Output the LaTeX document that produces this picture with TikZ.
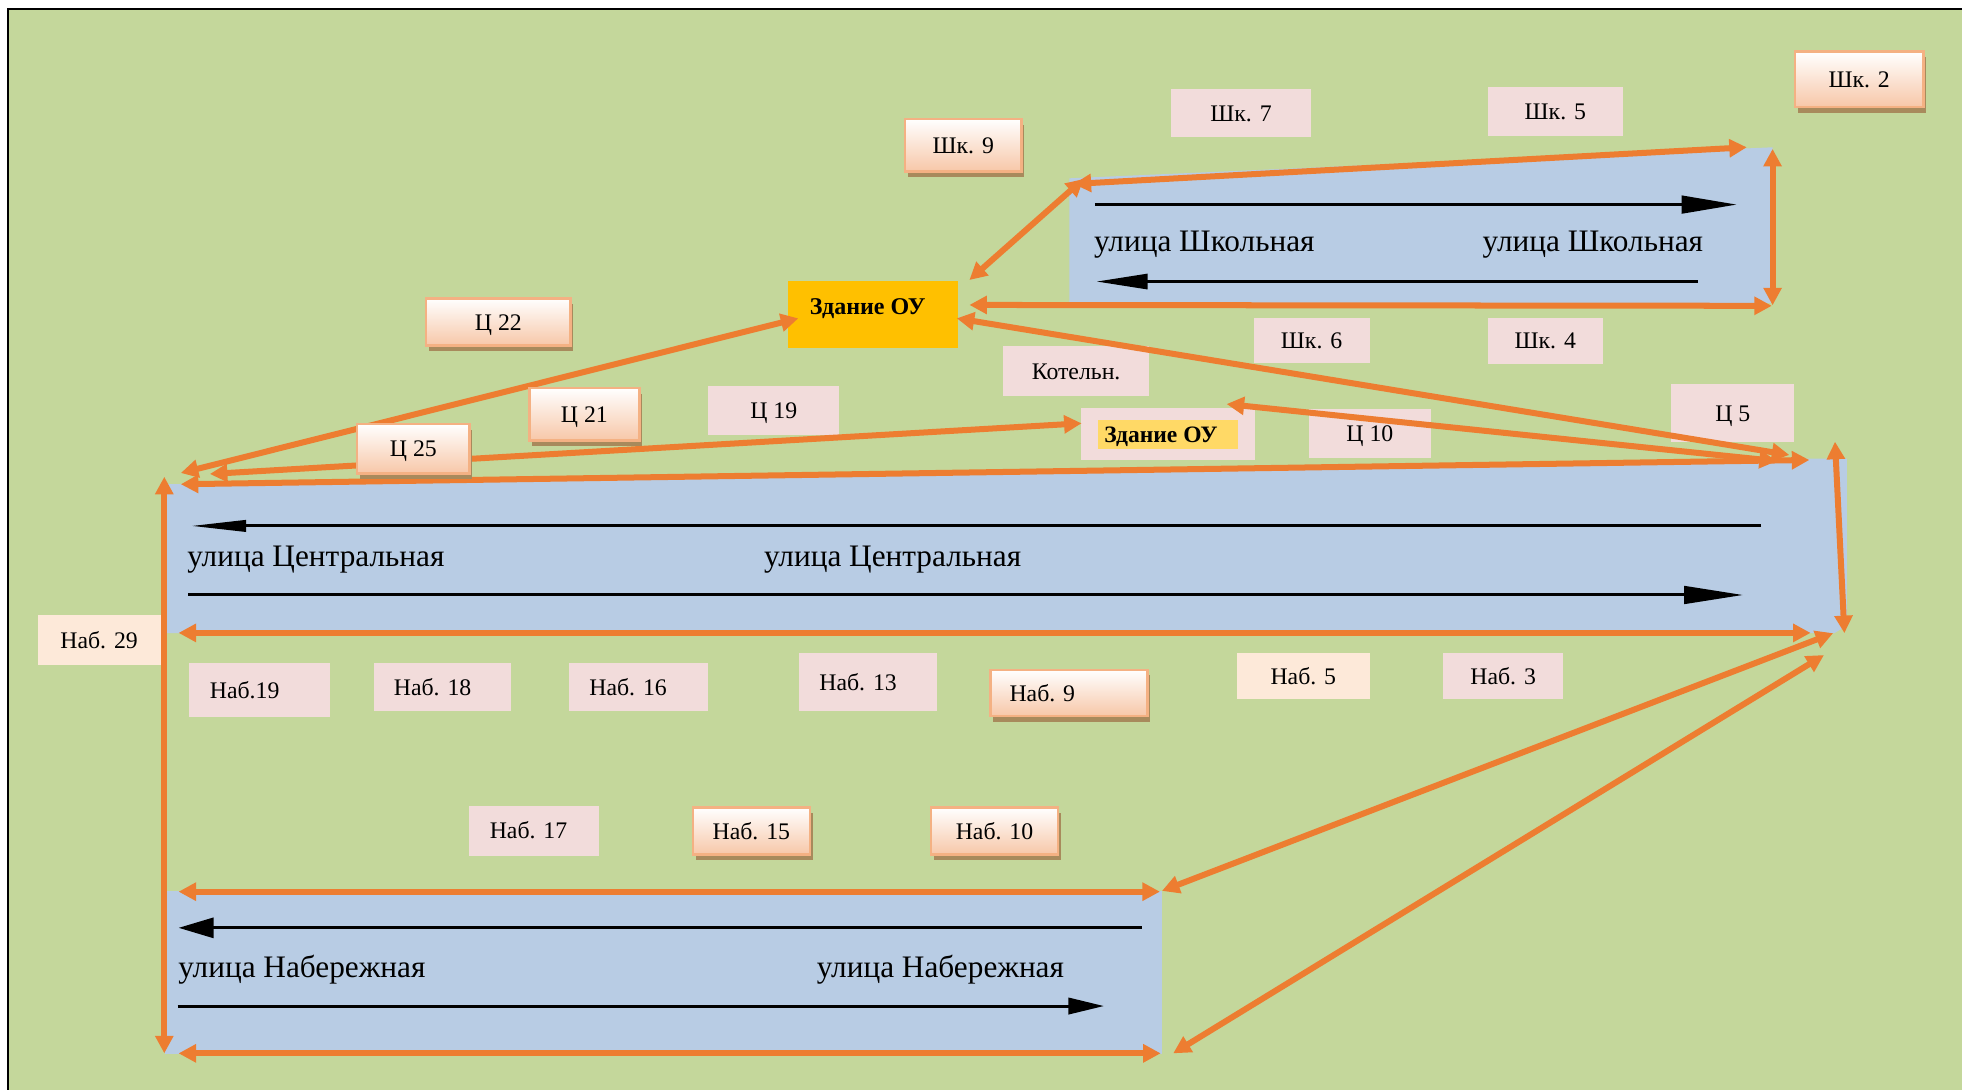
\documentclass[tikz,border=0pt]{standalone}
\usepackage{fontspec}
\setmainfont{Liberation Serif}
\usetikzlibrary{arrows.meta,shadows}
\definecolor{bggreen}{RGB}{196,215,155}
\definecolor{road}{RGB}{184,204,228}
\definecolor{orng}{RGB}{237,125,49}
\definecolor{pinklab}{RGB}{242,220,219}
\definecolor{peachlab}{RGB}{253,233,217}
\definecolor{gradbot}{RGB}{247,199,168}
\definecolor{gradborder}{RGB}{244,177,131}
\definecolor{shadowbrown}{RGB}{168,138,92}
\definecolor{gold}{RGB}{255,192,0}
\definecolor{lightgold}{RGB}{255,217,102}
\tikzset{
  lab/.style={fill=pinklab, inner sep=0pt, text height=13pt, text depth=0pt, font=\fontsize{19}{22}\selectfont},
  labpeach/.style={lab, fill=peachlab},
  glab/.style={draw=gradborder, line width=2.1pt, top color=white, bottom color=gradbot, inner sep=0pt,
    text height=13pt, text depth=0pt, font=\fontsize{19}{22}\selectfont,
    drop shadow={shadow xshift=2.2pt, shadow yshift=-4.5pt, fill=shadowbrown, opacity=1}},
  street/.style={font=\fontsize{25}{30}\selectfont, anchor=base, inner sep=0pt},
  oarrow/.style={draw=orng, line width=4.8pt, arrows={Triangle[length=14pt,width=14pt]-Triangle[length=14pt,width=14pt]}},
  blk/.style={draw=black, line width=2.4pt},
}
\begin{document}
\begin{tikzpicture}[x=1pt,y=-1pt]
\useasboundingbox (0,0) rectangle (1568,871);
\fill[white] (0,0) rectangle (1568,871);
\fill[bggreen] (6.4,7.2) rectangle (1568,871);
\draw[black, line width=1.6pt] (6.4,871) -- (6.4,7.2) -- (1568,7.2);
% streets
\fill[road] (854.6,142.5) -- (1416.6,117.7) -- (1416.6,242) -- (854.6,242) -- cycle;
\fill[road] (133,387) -- (1446,366.5) -- (1476,366.5) -- (1476,500) -- (1466,506) -- (133,506) -- cycle;
\fill[road] (132,712) rectangle (928.6,842);
% flat labels
\node[lab, minimum width=111.5pt, minimum height=37.8pt] (shk7) at (991.8,90.3) {Шк. 7};
\node[lab, minimum width=108pt, minimum height=39.2pt] (shk5) at (1243,89.2) {Шк. 5};
\node[lab, minimum width=92.7pt, minimum height=36pt] (shk6) at (1048.2,272.4) {Шк. 6};
\node[lab, minimum width=92pt, minimum height=36.7pt] (shk4) at (1235,272.4) {Шк. 4};
\node[lab, minimum width=116.7pt, minimum height=39.7pt] (kot) at (860,296.4) {Котельн.};
\node[lab, minimum width=104.7pt, minimum height=39.1pt] (c19) at (618.4,328) {Ц 19};
\node[lab, minimum width=139.4pt, minimum height=41.3pt] (zsmall) at (933.3,347) {};
\node[fill=lightgold, minimum width=111.5pt, minimum height=23pt, inner sep=0pt, text height=12.5pt, text depth=0pt,
  font=\bfseries\fontsize{18.8}{22}\selectfont] (zsmalltxt) at (933.3,347.1) {\hspace*{-11pt}Здание ОУ};
\node[lab, minimum width=97.5pt, minimum height=39.2pt] (c10) at (1094.8,346.1) {Ц 10};
\node[lab, minimum width=98.5pt, minimum height=46.4pt] (c5) at (1384.8,330) {Ц 5};
\node[labpeach, minimum width=98.4pt, minimum height=39.8pt] (n29) at (79.2,511.6) {Наб. 29};
\node[lab, minimum width=112.7pt, minimum height=43pt] (n19) at (207,551.5) {\hspace*{-23pt}Наб.19};
\node[lab, minimum width=109.8pt, minimum height=38pt] (n18) at (353.5,549) {\hspace*{-15.6pt}Наб. 18};
\node[lab, minimum width=111pt, minimum height=38pt] (n16) at (510.5,549) {\hspace*{-17pt}Наб. 16};
\node[lab, minimum width=110.2pt, minimum height=46pt] (n13) at (693.8,545) {\hspace*{-16pt}Наб. 13};
\node[labpeach, minimum width=106pt, minimum height=36.6pt] (n5) at (1041.6,540.3) {Наб. 5};
\node[lab, minimum width=95.4pt, minimum height=37pt] (n3) at (1201.3,540.5) {Наб. 3};
\node[lab, minimum width=103.4pt, minimum height=40pt] (n17) at (426.7,664) {\hspace*{-8.6pt}Наб. 17};
% big building
\node[fill=gold, minimum width=135.6pt, minimum height=54pt, inner sep=0pt,
  font=\bfseries\fontsize{19.2}{22}\selectfont, text height=13pt, text depth=13pt] (zbig) at (697.5,251.2) {\hspace*{-8pt}Здание ОУ};
% arrow end points
\coordinate (a1s) at (858,147);      \coordinate (a1e) at (1396,117.7);
\coordinate (a2s) at (774.7,223.8);  \coordinate (a2e) at (866,143);
\coordinate (a3s) at (1416.6,119);   \coordinate (a3e) at (1416.6,244);
\coordinate (a4s) at (774.7,243.7);  \coordinate (a4e) at (1416,244.4);
\coordinate (a5s) at (764.6,254.4);  \coordinate (a5e) at (1430,363.6);
\coordinate (a6s) at (980.3,322.9);  \coordinate (a6e) at (1420,368.5);
\coordinate (a7s) at (144.5,387);    \coordinate (a7e) at (1446,367.6);
\coordinate (a8s) at (144.5,378);    \coordinate (a8e) at (638,254.4);
\coordinate (a9s) at (167.7,378.8);  \coordinate (a9e) at (864.4,338.3);
\coordinate (a10s) at (1466.5,353);  \coordinate (a10e) at (1474,506);
\coordinate (a11s) at (142.7,505.8); \coordinate (a11e) at (1447,505.8);
\coordinate (a12s) at (131.3,381);   \coordinate (a12e) at (131.3,841.8);
\coordinate (a13s) at (142.7,712.6); \coordinate (a13e) at (927,712.6);
\coordinate (a14s) at (142.7,841.8); \coordinate (a14e) at (927.6,841.8);
\coordinate (a15s) at (928.6,712);   \coordinate (a15e) at (1465,506);
\coordinate (a16s) at (937.6,841.8); \coordinate (a16e) at (1457.7,523.5);
\foreach \i in {1,...,16} {\draw[oarrow] (a\i s) -- (a\i e);}
% black direction arrows
\coordinate (k1s) at (875,163.5);    \coordinate (k1e) at (1388,163.5);
\coordinate (k2s) at (1356.6,225);   \coordinate (k2e) at (876.2,225);
\coordinate (k3s) at (1407.4,420.3); \coordinate (k3e) at (152.7,420.3);
\coordinate (k4s) at (150.6,475.5);  \coordinate (k4e) at (1393,475.5);
\coordinate (k5s) at (912.6,741.5);  \coordinate (k5e) at (142.7,741.5);
\coordinate (k6s) at (142,804);      \coordinate (k6e) at (882.3,804);
\draw[blk, -{Triangle[length=44pt,width=14pt]}] (k1s) -- (k1e);
\draw[blk, -{Triangle[length=41pt,width=12pt]}] (k2s) -- (k2e);
\draw[blk, -{Triangle[length=44pt,width=9pt]}] (k3s) -- (k3e);
\draw[blk, -{Triangle[length=47pt,width=14pt]}] (k4s) -- (k4e);
\draw[blk, -{Triangle[length=28pt,width=16pt]}] (k5s) -- (k5e);
\draw[blk, -{Triangle[length=28.5pt,width=13pt]}] (k6s) -- (k6e);
% street names
\node[street] (sh1) at (962.5,201) {улица Школьная};
\node[street] (sh2) at (1273,201) {улица Школьная};
\node[street] (ce1) at (252.5,452.6) {улица Центральная};
\node[street] (ce2) at (713.4,452.6) {улица Центральная};
\node[street] (nb1) at (241.3,781.4) {улица Набережная};
\node[street] (nb2) at (751.6,781.4) {улица Набережная};
% raised labels
\node[glab, minimum width=93pt, minimum height=42pt] (shk9) at (769.8,116) {Шк. 9};
\node[glab, minimum width=102.4pt, minimum height=44.3pt] (shk2) at (1485.8,63.5) {Шк. 2};
\node[glab, minimum width=115.6pt, minimum height=38pt] (c22) at (398.3,257.3) {Ц 22};
\node[glab, minimum width=88pt, minimum height=42pt] (c21) at (467,331) {Ц 21};
\node[glab, minimum width=90pt, minimum height=39.7pt] (c25) at (330.4,358.7) {Ц 25};
\node[glab, minimum width=125.3pt, minimum height=37pt] (n9) at (854.3,553.8) {\hspace*{-42.6pt}Наб. 9};
\node[glab, minimum width=93.5pt, minimum height=37.6pt] (n15) at (600.5,664.2) {Наб. 15};
\node[glab, minimum width=101.6pt, minimum height=37.6pt] (n10) at (794.8,664.2) {Наб. 10};
\end{tikzpicture}
\end{document}
